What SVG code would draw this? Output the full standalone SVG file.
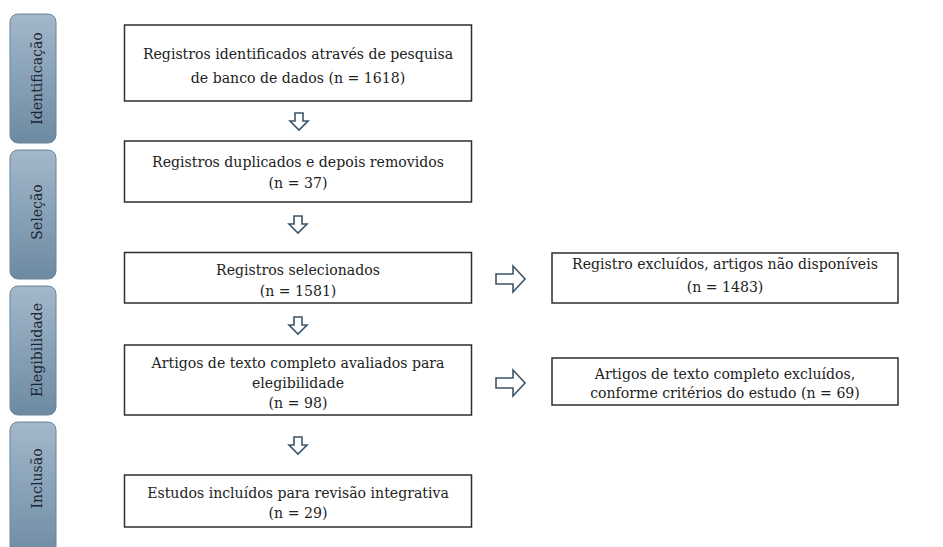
<svg xmlns="http://www.w3.org/2000/svg" width="943" height="547" viewBox="0 0 943 547">
<defs>
<linearGradient id="g" x1="0" y1="0" x2="0" y2="1">
<stop offset="0" stop-color="#a3b8ca"/>
<stop offset="1" stop-color="#6d8aa2"/>
</linearGradient>
<g id="down"><path d="M-4,0 H4 V8 H9 L0,17 L-9,8 H-4 Z" fill="#fff" stroke="#3c566b" stroke-width="1.6"/></g>
<g id="right"><path d="M0,-5 H17 V-13 L29,0 L17,13 V5 H0 Z" fill="#fff" stroke="#3c566b" stroke-width="1.6"/></g>
</defs>
<style>
.side{fill:url(#g);stroke:#67849b;stroke-width:1}
.stxt{font-family:"DejaVu Serif",serif;font-size:15px;fill:#1c2633;text-anchor:middle}
.box{fill:#fff;stroke:#2e2e2e;stroke-width:1.5}
.t{font-family:"DejaVu Serif",serif;font-size:15px;fill:#222;text-anchor:middle}
</style>
<rect width="943" height="547" fill="#fff"/>
<g id="phase-identificacao"><rect class="side" x="10" y="14" width="46" height="129" rx="8"/><text class="stxt" transform="translate(42,78.5) rotate(-90) scale(0.94,1)">Identificação</text></g>
<g id="phase-selecao"><rect class="side" x="10" y="150" width="46" height="129" rx="8"/><text class="stxt" transform="translate(42,212) rotate(-90) scale(0.94,1)">Seleção</text></g>
<g id="phase-elegibilidade"><rect class="side" x="10" y="286" width="46" height="129" rx="8"/><text class="stxt" transform="translate(42,350) rotate(-90) scale(0.94,1)">Elegibilidade</text></g>
<g id="phase-inclusao"><rect class="side" x="10" y="422" width="46" height="140" rx="8"/><text class="stxt" transform="translate(42,478.5) rotate(-90) scale(0.94,1)">Inclusão</text></g>

<g id="n1"><rect class="box" x="124.5" y="25" width="347" height="76"/>
<text class="t" transform="translate(298,59) scale(0.94,1)">Registros identificados através de pesquisa</text>
<text class="t" transform="translate(298,83) scale(0.94,1)">de banco de dados (n = 1618)</text></g>
<g id="n2"><rect class="box" x="124.5" y="141" width="347" height="61"/>
<text class="t" transform="translate(298,167) scale(0.94,1)">Registros duplicados e depois removidos</text>
<text class="t" transform="translate(298,188) scale(0.94,1)">(n = 37)</text></g>
<g id="n3"><rect class="box" x="124.5" y="252.5" width="347" height="50.5"/>
<text class="t" transform="translate(298,275) scale(0.94,1)">Registros selecionados</text>
<text class="t" transform="translate(298,296) scale(0.94,1)">(n = 1581)</text></g>
<g id="n4"><rect class="box" x="124.5" y="345" width="347" height="70"/>
<text class="t" transform="translate(298,368) scale(0.94,1)">Artigos de texto completo avaliados para</text>
<text class="t" transform="translate(298,388) scale(0.94,1)">elegibilidade</text>
<text class="t" transform="translate(298,408) scale(0.94,1)">(n = 98)</text></g>
<g id="n5"><rect class="box" x="124.5" y="475" width="347" height="52"/>
<text class="t" transform="translate(298,498) scale(0.94,1)">Estudos incluídos para revisão integrativa</text>
<text class="t" transform="translate(298,518) scale(0.94,1)">(n = 29)</text></g>
<g id="n6"><rect class="box" x="552" y="253" width="346" height="50"/>
<text class="t" transform="translate(725,269) scale(0.94,1)">Registro excluídos, artigos não disponíveis</text>
<text class="t" transform="translate(725,292) scale(0.94,1)">(n = 1483)</text></g>
<g id="n7"><rect class="box" x="552" y="358" width="346" height="47"/>
<text class="t" transform="translate(725,379) scale(0.94,1)">Artigos de texto completo excluídos,</text>
<text class="t" transform="translate(725,398) scale(0.94,1)">conforme critérios do estudo (n = 69)</text></g>

<g id="connectors">
<use href="#down" x="299" y="113"/>
<use href="#down" x="298" y="216"/>
<use href="#down" x="298" y="317"/>
<use href="#down" x="298" y="437"/>
<use href="#right" x="496" y="279"/>
<use href="#right" x="496" y="383"/>
</g>
</svg>
